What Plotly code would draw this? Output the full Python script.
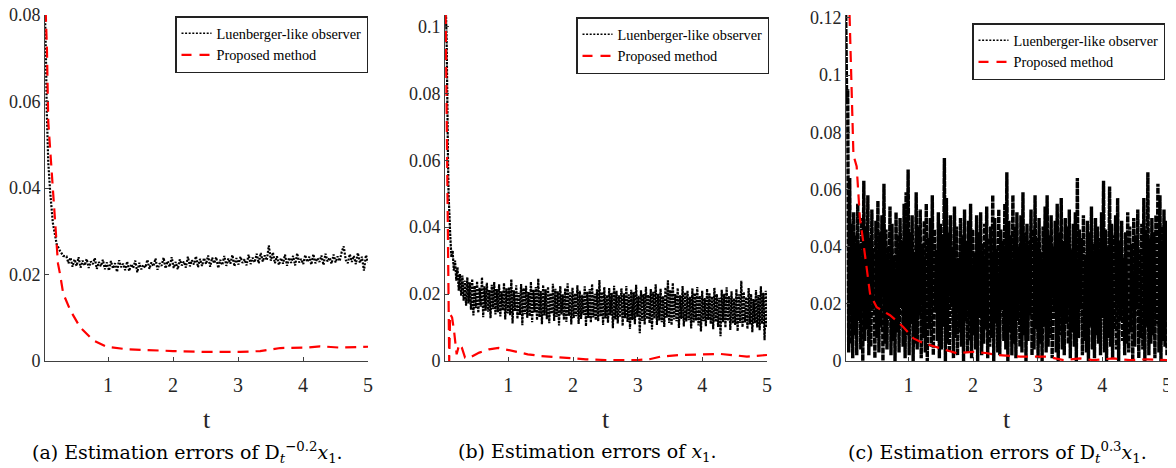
import numpy as np
import plotly.graph_objects as go

# ---------------- data (values in units of 1e-3) ----------------
x_ticks = [1, 2, 3, 4, 5]
y_ticks_a = [0, 0.02, 0.04, 0.06, 0.08]
y_ticks_b = [0, 0.02, 0.04, 0.06, 0.08, 0.1]
y_ticks_c = [0, 0.02, 0.04, 0.06, 0.08, 0.1, 0.12]

# (a) Luenberger-like observer: initial decay, then noisy band
t_a_lu_head = [0.03, 0.045, 0.057, 0.08, 0.11, 0.15, 0.21, 0.26, 0.31]
e_a_lu_head = [80.5, 70, 58, 46, 39, 32, 27, 25.5, 24.3]
t_a_lu_band_span = [0.36, 5.0]
e_a_lu_band = [
    24.2, 22.6, 23.9, 21.8, 23.5, 22.0, 24.0, 21.6, 23.2, 22.1,
    23.6, 21.5, 23.0, 22.4, 23.8, 21.3, 22.9, 21.9, 23.4, 21.2,
    22.8, 20.9, 23.1, 21.4, 22.6, 20.6, 23.3, 21.7, 22.5, 21.0,
    23.0, 20.8, 22.4, 21.5, 23.2, 20.5, 22.7, 21.2, 22.2, 21.6,
    23.4, 21.3, 22.8, 21.9, 23.7, 21.1, 22.6, 22.0, 23.9, 21.4,
    23.1, 21.8, 24.0, 21.5, 22.9, 21.2, 23.5, 22.1, 23.0, 21.6,
    24.1, 21.9, 23.3, 22.3, 24.2, 21.7, 23.6, 22.0, 23.8, 22.4,
    24.4, 21.8, 23.9, 22.6, 24.0, 21.5, 23.4, 22.2, 24.3, 22.0,
    23.7, 22.5, 24.5, 21.9, 23.8, 22.3, 24.1, 22.7, 23.5, 22.1,
    24.6, 22.4, 23.9, 22.8, 24.8, 22.6, 25.0, 23.0, 24.4, 23.3,
    26.7, 23.2, 25.1, 22.6, 24.2, 22.2, 23.8, 22.5, 24.6, 22.0,
    23.9, 22.7, 24.3, 22.1, 24.9, 22.8, 23.6, 22.4, 24.5, 22.9,
    24.1, 22.3, 24.7, 22.6, 23.8, 22.9, 24.4, 22.2, 24.8, 23.0,
    23.9, 22.5, 24.6, 22.8, 24.2, 23.1, 25.2, 26.5, 23.4, 22.6,
    24.7, 22.9, 24.3, 22.4, 25.0, 22.7, 24.1, 20.9, 24.5, 22.8,
]
# (a) Proposed method
t_a_pm = [0.04, 0.06, 0.08, 0.13, 0.185, 0.23, 0.26, 0.31, 0.42, 0.57, 0.77,
          0.98, 1.29, 1.6, 2.0, 2.5, 3.03, 3.34, 3.65, 4.06, 4.26, 4.57, 5.0]
e_a_pm = [81, 72, 55.4, 44.6, 32.4, 22.5, 20.2, 15.6, 11.7, 7.8, 4.8,
          3.3, 2.7, 2.5, 2.3, 2.1, 2.1, 2.3, 3.0, 3.1, 3.4, 3.1, 3.3]

# (b) Luenberger-like observer
t_b_lu_head = [0.035, 0.045, 0.055, 0.065, 0.075, 0.09]
e_b_lu_head = [104, 96, 80, 62, 50, 43]
t_b_lu_band_span = [0.1, 5.0]
e_b_lu_high = [
    38, 33, 30, 28, 26, 25.5, 24, 25, 23.5, 24.5,
    22.5, 23.8, 21.9, 25.0, 22.3, 23.4, 21.2, 22.8, 23.6, 21.5,
    22.9, 20.8, 23.3, 21.7, 22.0, 24.4, 21.1, 22.6, 20.4, 23.0,
    21.8, 22.5, 20.6, 23.7, 21.3, 22.1, 24.6, 20.9, 22.7, 21.4,
    22.2, 20.3, 23.1, 21.6, 20.8, 22.4, 19.9, 21.7, 23.2, 20.5,
    21.9, 20.2, 22.6, 21.0, 19.8, 22.3, 20.7, 21.5, 23.0, 20.1,
    21.4, 24.2, 20.6, 22.1, 19.7, 21.8, 20.4, 22.5, 21.0, 19.6,
    21.7, 20.2, 22.4, 19.9, 21.3, 20.6, 22.8, 19.5, 21.1, 20.0,
    22.2, 19.8, 21.5, 20.7, 22.9, 20.1, 21.6, 19.4, 22.0, 24.1,
    21.2, 23.3, 20.0, 21.8, 19.6, 22.4, 20.5, 21.0, 19.2, 21.7,
    20.3, 22.1, 19.5, 21.0, 18.8, 21.6, 20.2, 19.3, 21.9, 20.0,
    18.9, 21.3, 20.1, 22.0, 19.4, 20.8, 18.7, 21.5, 19.9, 24.0,
    20.6, 19.1, 21.8, 20.0, 18.5, 21.2, 19.7, 22.3, 20.4, 21.0,
]
e_b_lu_low = [
    31, 27, 24, 21, 19.5, 18, 16.5, 17.2, 15.3, 13.6,
    15.8, 14.4, 16.2, 13.1, 15.0, 14.7, 12.8, 15.5, 13.9, 14.6,
    13.3, 15.1, 12.4, 14.2, 13.7, 11.2, 14.9, 12.6, 13.8, 10.7,
    14.0, 12.9, 13.4, 11.6, 14.5, 12.2, 13.1, 11.0, 13.6, 12.5,
    11.3, 14.1, 12.0, 13.2, 10.6, 13.9, 12.3, 11.7, 13.5, 10.9,
    12.8, 13.4, 11.1, 12.6, 13.8, 10.4, 12.9, 11.5, 13.0, 12.2,
    11.9, 13.3, 10.8, 12.7, 11.4, 13.6, 9.8, 12.4, 11.2, 13.1,
    10.5, 12.8, 11.7, 9.6, 12.3, 11.0, 13.2, 8.3, 12.0, 10.9,
    12.5, 11.3, 9.4, 12.7, 10.8, 12.1, 11.6, 10.2, 12.9, 11.4,
    10.7, 12.4, 11.9, 9.9, 12.6, 10.3, 11.8, 12.2, 9.7, 11.5,
    12.1, 10.6, 8.8, 11.9, 10.4, 12.3, 11.1, 9.5, 11.7, 10.2,
    7.4, 11.6, 10.0, 12.0, 9.3, 11.2, 10.8, 8.9, 11.4, 10.1,
    11.5, 9.6, 10.9, 8.6, 11.3, 10.0, 9.2, 11.1, 6.2, 9.9,
]
# (b) Proposed method
t_b_pm = [0.03, 0.05, 0.07, 0.085, 0.1, 0.13, 0.16, 0.2, 0.24, 0.28, 0.33, 0.42,
          0.55, 0.7, 0.85, 1.07, 1.3, 1.5, 1.9, 2.2, 2.5, 2.8, 3.0, 3.2, 3.35,
          3.66, 4.0, 4.28, 4.5, 4.69, 5.0]
e_b_pm = [104, 60, 10, 0.0, 14, 13, 9, 2, 5, 4, 1, 1.2,
          2.5, 3.5, 3.9, 2.9, 2.0, 1.5, 0.8, 0.5, 0.3, 0.3, 0.3, 0.6, 1.3,
          1.8, 1.9, 2.1, 1.7, 1.3, 1.8]

# (c) Luenberger-like observer: peaks and troughs of the fast oscillation
t_c_lu_span = [0.03, 5.0]
e_c_lu_peak = [
    121, 95, 64, 48, 52, 44, 55, 41, 50, 63,
    47, 58, 43, 53, 39, 49, 56, 45, 51, 62,
    46, 40, 54, 48, 37, 52, 44, 50, 42, 55,
    59, 67, 45, 51, 38, 59, 47, 53, 41, 49,
    55, 43, 50, 58, 46, 39, 52, 48, 44, 71,
    57, 45, 51, 40, 54, 47, 36, 50, 44, 53,
    42, 49, 55, 46, 38, 51, 45, 52, 41, 48,
    54, 43, 47, 58, 50, 39, 53, 46, 42, 55,
    66, 49, 44, 58, 47, 52, 40, 51, 59, 45,
    48, 42, 53, 46, 58, 43, 50, 38, 47, 54,
    58, 44, 51, 40, 49, 55, 45, 57, 42, 50,
    47, 53, 39, 48, 52, 64, 46, 43, 51, 37,
    49, 45, 54, 41, 50, 47, 43, 52, 63, 46,
    40, 61, 48, 44, 51, 57, 42, 49, 36, 45,
    52, 47, 41, 50, 44, 53, 39, 48, 57, 46,
    66, 43, 50, 45, 51, 62, 58, 47, 53, 49,
]
e_c_lu_trough = [
    90, 3, 6, 1, 9, 2, 14, 4, 0, 7,
    11, 2, 5, 18, 1, 8, 3, 12, 0, 6,
    4, 15, 2, 7, 0, 10, 3, 20, 5, 1,
    9, 2, 13, 0, 6, 4, 16, 1, 8, 3,
    0, 11, 5, 2, 17, 7, 1, 4, 12, 0,
    6, 3, 19, 1, 8, 2, 10, 5, 0, 14,
    3, 7, 1, 9, 4, 0, 15, 2, 6, 11,
    1, 5, 8, 0, 13, 3, 2, 18, 7, 4,
    0, 10, 2, 6, 1, 14, 5, 3, 9, 0,
    7, 16, 2, 4, 11, 1, 6, 0, 12, 3,
    5, 8, 1, 17, 3, 0, 9, 4, 2, 13,
    6, 1, 10, 5, 0, 8, 19, 2, 7, 3,
    0, 12, 4, 1, 9, 6, 2, 15, 3, 0,
    8, 5, 1, 11, 4, 0, 14, 7, 2, 6,
    3, 10, 0, 5, 18, 1, 8, 4, 0, 12,
    2, 6, 9, 1, 13, 3, 0, 7, 5, 2,
]
# (c) Proposed method
t_c_pm = [0.09, 0.12, 0.15, 0.2, 0.25, 0.3, 0.356, 0.407, 0.51, 0.6, 0.716,
          0.82, 0.92, 1.08, 1.2, 1.34, 1.59, 1.75, 2.0, 2.2, 2.37, 2.73, 3.14,
          3.4, 3.66, 3.86, 4.17, 4.43, 4.69, 5.0]
e_c_pm = [121, 95, 72, 68, 50, 42, 32.7, 23.5, 18.8, 17.5, 16.0,
          14.0, 11.9, 7.9, 6.6, 5.5, 3.8, 2.7, 3.2, 2.8, 2.1, 1.5, 1.5,
          0.3, 0.9, 0.3, 0.9, 0.3, 0.6, 0.3]

series_names = ["Luenberger-like observer", "Proposed method"]
captions = [
    "(a) Estimation errors of D<sub><i>t</i></sub><sup>−0.2</sup><i>x</i><sub>1</sub>.",
    "(b) Estimation errors of <i>x</i><sub>1</sub>.",
    "(c) Estimation errors of D<sub><i>t</i></sub><sup>0.3</sup><i>x</i><sub>1</sub>.",
]

# ---------------- build series ----------------
S = 1e-3


def interleave(a, b):
    out = np.empty(len(a) + len(b))
    out[0::2] = a
    out[1::2] = b
    return out


t_a_lu = np.concatenate([t_a_lu_head, np.linspace(*t_a_lu_band_span, len(e_a_lu_band))])
y_a_lu = np.concatenate([e_a_lu_head, e_a_lu_band]) * S

b_band = interleave(e_b_lu_high, e_b_lu_low)
t_b_lu = np.concatenate([t_b_lu_head, np.linspace(*t_b_lu_band_span, len(b_band))])
y_b_lu = np.concatenate([e_b_lu_head, b_band]) * S

c_band = interleave(e_c_lu_peak, e_c_lu_trough)
t_c_lu = np.linspace(*t_c_lu_span, len(c_band))
y_c_lu = c_band * S

panels = [
    (t_a_lu, y_a_lu, t_a_pm, np.array(e_a_pm) * S),
    (t_b_lu, y_b_lu, t_b_pm, np.array(e_b_pm) * S),
    (t_c_lu, y_c_lu, t_c_pm, np.array(e_c_pm) * S),
]
lu_width = [2.2, 2.2, 3.4]
lu_dash = ["2px,1.5px", "2.5px,1px", "6px,1px"]

# the page body adds an 8px offset; lay the figure out in page pixels minus 8
OFF = 8
W, H = 1176 - OFF, 468 - OFF
x_px = [(45, 368), (445, 767), (846, 1167)]
y_px = (15, 361)
x_ranges = [[0.03, 5], [0.02, 5], [0.035, 5]]
y_ranges = [[0, 0.08], [0, 0.1034], [0, 0.121]]
y_ticks = [y_ticks_a, y_ticks_b, y_ticks_c]
legend_px = [(175, 16), (576, 17), (972, 23)]
caption_cx = [187, 587, 997]


def px_x(p):
    return (p - OFF) / W


def px_y(p):
    return 1 - (p - OFF) / H


fig = go.Figure()
axis_col = "#404040"
txt_col = "#262626"
for i, (tl, yl, tp, yp) in enumerate(panels):
    sfx = "" if i == 0 else str(i + 1)
    leg = "legend" + sfx
    xa, ya = "x" + sfx, "y" + sfx
    # data traces
    fig.add_trace(go.Scatter(
        x=tl, y=yl, mode="lines", name=series_names[0], showlegend=False,
        line=dict(color="black", width=lu_width[i], dash=lu_dash[i], simplify=False),
        xaxis=xa, yaxis=ya))
    fig.add_trace(go.Scatter(
        x=tp, y=yp, mode="lines", name=series_names[1], showlegend=False,
        line=dict(color="#ff0000", width=2.2, dash="11px,7px"),
        xaxis=xa, yaxis=ya))
    # legend keys (fine dotted sample as in the original legend)
    fig.add_trace(go.Scatter(
        x=[None], y=[None], mode="lines", name=series_names[0],
        line=dict(color="black", width=1.6, dash="2px,1.6px"),
        xaxis=xa, yaxis=ya, legend=leg))
    fig.add_trace(go.Scatter(
        x=[None], y=[None], mode="lines", name=series_names[1],
        line=dict(color="#ff0000", width=2.4, dash="10px,8px"),
        xaxis=xa, yaxis=ya, legend=leg))

    xd = [px_x(x_px[i][0]), px_x(x_px[i][1])]
    yd = [px_y(y_px[1]), px_y(y_px[0])]
    fig.update_layout(**{
        "xaxis" + sfx: dict(
            domain=xd, range=x_ranges[i], anchor=ya, automargin=False,
            showline=True, linecolor=axis_col, linewidth=1,
            ticks="inside", ticklen=4, tickcolor=axis_col,
            showgrid=False, zeroline=False, tickvals=x_ticks,
            ticklabelstandoff=6, ticklabeloverflow="allow",
            tickfont=dict(family="Liberation Serif", size=20, color=txt_col)),
        "yaxis" + sfx: dict(
            domain=yd, range=y_ranges[i], anchor=xa, automargin=False,
            showline=True, linecolor=axis_col, linewidth=1,
            ticks="inside", ticklen=4, tickcolor=axis_col,
            showgrid=False, zeroline=False, tickvals=y_ticks[i],
            ticklabelstandoff=0, ticklabeloverflow="allow",
            tickfont=dict(family="Liberation Serif", size=18, color=txt_col)),
        leg: dict(
            x=px_x(legend_px[i][0]), y=px_y(legend_px[i][1]),
            xanchor="left", yanchor="top",
            bgcolor="white", bordercolor="#222222", borderwidth=1.5,
            font=dict(family="Liberation Serif", size=14.3, color="black"),
            itemwidth=30, tracegroupgap=0),
    })
    # axis title "t"
    fig.add_annotation(
        x=px_x((x_px[i][0] + x_px[i][1]) / 2), y=px_y(419),
        xref="paper", yref="paper", text="t", showarrow=False,
        font=dict(family="Liberation Serif", size=26, color=txt_col),
        xanchor="center", yanchor="middle")
    # caption
    fig.add_annotation(
        x=px_x(caption_cx[i]), y=px_y(452),
        xref="paper", yref="paper", text=captions[i], showarrow=False,
        font=dict(family="DejaVu Serif", size=19, color="black"),
        xanchor="center", yanchor="middle")

fig.update_layout(
    template="none",
    width=W, height=H,
    margin=dict(l=0, r=0, t=0, b=0, autoexpand=False),
    paper_bgcolor="white", plot_bgcolor="white",
    showlegend=True,
)

fig.write_html("out.html")
